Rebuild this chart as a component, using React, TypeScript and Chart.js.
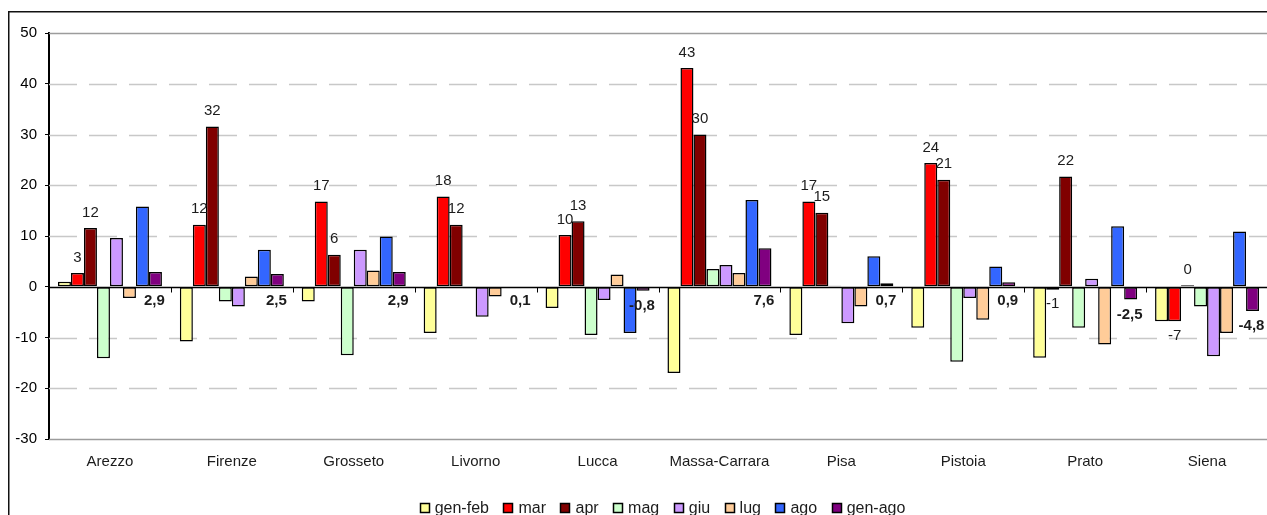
import React, { useEffect, useRef } from 'react';
import { Chart, registerables } from 'chart.js';

Chart.register(...registerables);

// Province categories along the x axis
const categories = [
  'Arezzo', 'Firenze', 'Grosseto', 'Livorno', 'Lucca',
  'Massa-Carrara', 'Pisa', 'Pistoia', 'Prato', 'Siena',
];

// Percentage changes per period
const genFeb = [1.0, -10.8, -2.9, -9.1, -4.2, -17.0, -9.5, -8.1, -14.0, -6.8];
const mar = [2.7, 12.2, 16.8, 17.8, 10.2, 43.1, 16.8, 24.4, -0.6, -6.8];
const apr = [11.6, 31.6, 6.3, 12.2, 12.9, 30.0, 14.6, 21.1, 21.7, 0.3];
const mag = [-14.1, -2.9, -13.5, -0.3, -9.5, 3.5, 0.2, -14.8, -8.1, -3.9];
const giu = [9.6, -3.9, 7.3, -5.9, -2.6, 4.3, -7.2, -2.2, 1.6, -13.7];
const lug = [-2.2, 2.0, 3.2, -1.9, 2.4, 2.7, -3.9, -6.5, -11.4, -9.1];
const ago = [15.8, 7.3, 9.9, 0, -9.1, 17.1, 6.0, 4.0, 11.9, 10.9];
const genAgo = [2.9, 2.5, 2.9, 0.1, -0.8, 7.6, 0.7, 0.9, -2.5, -4.8];

const seriesNames = ['gen-feb', 'mar', 'apr', 'mag', 'giu', 'lug', 'ago', 'gen-ago'];
const seriesValues = [genFeb, mar, apr, mag, giu, lug, ago, genAgo];
const seriesColors = ['#FFFF99', '#FF0000', '#800000', '#CCFFCC', '#CC99FF', '#FFCC99', '#3366FF', '#800080'];

// Value axis range
const Y_MIN = -30;
const Y_MAX = 50;
const Y_STEP = 10;

// Series that carry value labels
const ROUNDED_LABEL_SERIES = [1, 2];
const DECIMAL_LABEL_SERIES = 7;

const FONT = '"Liberation Sans", Arial, sans-serif';
const CANVAS_W = 1290;
const CANVAS_H = 520;

const roundedText = (v: number) => {
  let r = Math.round(v);
  if (Object.is(r, -0)) r = 0;
  return String(r);
};
const decimalText = (v: number) => v.toFixed(1).replace('.', ',');

const chartDecor = {
  id: 'chartDecor',
  beforeDatasetsDraw(chart: any) {
    const { ctx, chartArea: a, scales } = chart;
    const y = scales.y;
    ctx.save();
    // dashed horizontal grid
    ctx.strokeStyle = '#c8c8c8';
    ctx.lineWidth = 1.5;
    ctx.setLineDash([28, 12]);
    y.ticks.forEach((t: any) => {
      if (t.value === Y_MIN || t.value === Y_MAX || t.value === 0) return;
      const py = Math.round(y.getPixelForValue(t.value)) + 0.5;
      ctx.beginPath();
      ctx.moveTo(a.left, py);
      ctx.lineTo(a.right, py);
      ctx.stroke();
    });
    ctx.setLineDash([]);
    // plot area top and bottom edges
    ctx.strokeStyle = '#9c9c9c';
    ctx.lineWidth = 1.5;
    [Y_MAX, Y_MIN].forEach((v) => {
      const py = Math.round(y.getPixelForValue(v)) + 0.5;
      ctx.beginPath();
      ctx.moveTo(a.left, py);
      ctx.lineTo(a.right, py);
      ctx.stroke();
    });
    ctx.restore();
  },
  afterDatasetsDraw(chart: any) {
    const { ctx, chartArea: a, scales } = chart;
    const y = scales.y;
    const x = scales.x;
    const zero = Math.round(y.getPixelForValue(0)) + 0.5;
    ctx.save();
    // zero line
    ctx.strokeStyle = '#000';
    ctx.lineWidth = 1.5;
    ctx.beginPath();
    ctx.moveTo(a.left, zero);
    ctx.lineTo(a.right, zero);
    ctx.stroke();
    // category separators on the zero line
    const cw = (a.right - a.left) / categories.length;
    ctx.lineWidth = 1;
    for (let i = 1; i <= categories.length; i++) {
      const px = Math.round(x.getPixelForValue(i - 1) + cw / 2) + 0.5;
      ctx.beginPath();
      ctx.moveTo(px, zero);
      ctx.lineTo(px, zero + 5);
      ctx.stroke();
    }
    // value labels
    ctx.fillStyle = '#1c1c1c';
    ctx.textAlign = 'center';
    ctx.textBaseline = 'middle';
    ctx.font = `15px ${FONT}`;
    ROUNDED_LABEL_SERIES.forEach((di) => {
      const meta = chart.getDatasetMeta(di);
      meta.data.forEach((el: any, j: number) => {
        const v = seriesValues[di][j];
        const ty = v >= 0 ? el.y - 15.5 : el.y + 14.5;
        ctx.fillText(roundedText(v), el.x, ty);
      });
    });
    ctx.font = `bold 15px ${FONT}`;
    const metaAgo = chart.getDatasetMeta(DECIMAL_LABEL_SERIES);
    metaAgo.data.forEach((el: any, j: number) => {
      const v = seriesValues[DECIMAL_LABEL_SERIES][j];
      const ty = Math.max(el.y, el.base) + 15;
      ctx.fillText(decimalText(v), el.x - 1, ty);
    });
    ctx.restore();
  },
  afterDraw(chart: any) {
    const { ctx, chartArea: a } = chart;
    ctx.save();
    // legend
    ctx.font = `16px ${FONT}`;
    const box = 9;
    const boxGap = 6;
    const itemGap = 14.5;
    const widths = seriesNames.map((n) => ctx.measureText(n).width);
    const total =
      widths.reduce((s, w) => s + w, 0) +
      seriesNames.length * (box + boxGap) +
      (seriesNames.length - 1) * itemGap;
    let lx = (a.left + a.right) / 2 + 4 - total / 2;
    const boxTop = 492.5;
    const baseline = 501.5;
    ctx.textBaseline = 'alphabetic';
    ctx.textAlign = 'left';
    seriesNames.forEach((n, i) => {
      const bx = Math.round(lx) + 0.5;
      ctx.fillStyle = seriesColors[i];
      ctx.fillRect(bx, boxTop, box, box);
      ctx.strokeStyle = '#000';
      ctx.lineWidth = 1.5;
      ctx.strokeRect(bx, boxTop, box, box);
      ctx.fillStyle = '#1c1c1c';
      ctx.fillText(n, lx + box + boxGap, baseline);
      lx += box + boxGap + widths[i] + itemGap;
    });
    // outer chart frame
    ctx.strokeStyle = '#111';
    ctx.lineWidth = 1.5;
    ctx.strokeRect(0.75, 0.75, chart.width - 1.5, chart.height - 1.5);
    ctx.restore();
  },
};

export default function App() {
  const canvasRef = useRef<HTMLCanvasElement | null>(null);

  useEffect(() => {
    const canvas = canvasRef.current;
    if (!canvas) return;
    const chart = new Chart(canvas, {
      type: 'bar',
      data: {
        labels: categories,
        datasets: seriesNames.map((name, i) => ({
          label: name,
          data: seriesValues[i],
          backgroundColor: seriesColors[i],
          borderColor: '#000',
          borderWidth: 1.5,
          borderSkipped: false,
          categoryPercentage: 0.853,
          barPercentage: 1.0,
        })),
      },
      options: {
        responsive: false,
        animation: false,
        devicePixelRatio: 1,
        layout: { padding: { left: 0, right: 30, top: 22, bottom: 42 } },
        plugins: {
          legend: { display: false },
          tooltip: { enabled: false },
        },
        scales: {
          x: {
            type: 'category',
            offset: true,
            grid: { display: false, drawTicks: false },
            border: { display: false },
            ticks: {
              autoSkip: false,
              maxRotation: 0,
              padding: 14,
              color: '#1c1c1c',
              font: { family: FONT, size: 15 },
            },
            afterFit: (s: any) => {
              s.height = 50;
            },
          },
          y: {
            min: Y_MIN,
            max: Y_MAX,
            grid: {
              display: true,
              drawOnChartArea: false,
              drawTicks: true,
              tickLength: 4,
              tickColor: '#000',
              tickWidth: 1,
            },
            border: { display: true, color: '#000', width: 2 },
            ticks: {
              stepSize: Y_STEP,
              padding: 8,
              color: '#000',
              font: { family: FONT, size: 15 },
            },
            afterFit: (s: any) => {
              s.width = 41;
            },
          },
        },
      },
      plugins: [chartDecor],
    });
    return () => chart.destroy();
  }, []);

  return (
    <div
      style={{
        position: 'fixed',
        left: 8,
        top: 11,
        width: 1259,
        height: 504,
        overflow: 'hidden',
        background: '#fff',
      }}
    >
      <canvas ref={canvasRef} width={CANVAS_W} height={CANVAS_H} style={{ display: 'block' }} />
    </div>
  );
}
